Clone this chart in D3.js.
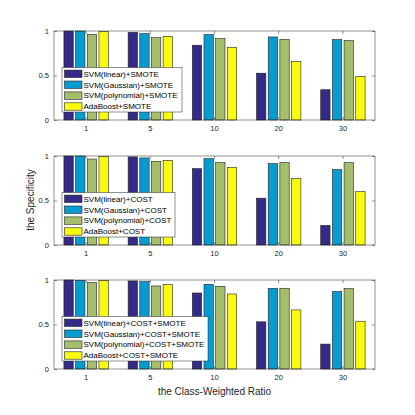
<!DOCTYPE html>
<html><head><meta charset="utf-8">
<script src="https://cdn.jsdelivr.net/npm/d3@7"></script>
<style>body{margin:0;background:#fff}svg{display:block}text{font-family:"Liberation Sans",Arial,sans-serif}</style>
</head><body><div id="c"></div>
<script>
const categories = ["1","5","10","20","30"];
const yTicks = [0, 0.5, 1];
const yTickLabels = ["0","0.5","1"];
const colors = ["#352a87","#079ccf","#a5be6b","#f9fb0e"];
const legend1 = ["SVM(linear)+SMOTE","SVM(Gaussian)+SMOTE","SVM(polynomial)+SMOTE","AdaBoost+SMOTE"];
const legend2 = ["SVM(linear)+COST","SVM(Gaussian)+COST","SVM(polynomial)+COST","AdaBoost+COST"];
const legend3 = ["SVM(linear)+COST+SMOTE","SVM(Gaussian)+COST+SMOTE","SVM(polynomial)+COST+SMOTE","AdaBoost+COST+SMOTE"];
// values per series, across categories
const smoteLinear = [1.0, 0.985, 0.84, 0.526, 0.34];
const smoteGauss  = [1.0, 0.97, 0.959, 0.933, 0.903];
const smotePoly   = [0.963, 0.925, 0.914, 0.907, 0.892];
const smoteAda    = [0.996, 0.94, 0.817, 0.66, 0.489];
const costLinear = [1.0, 0.99, 0.858, 0.526, 0.22];
const costGauss  = [1.0, 0.978, 0.97, 0.914, 0.847];
const costPoly   = [0.966, 0.94, 0.925, 0.925, 0.925];
const costAda    = [0.996, 0.95, 0.873, 0.746, 0.6];
const csLinear = [1.0, 0.989, 0.854, 0.53, 0.28];
const csGauss  = [0.996, 0.981, 0.951, 0.907, 0.869];
const csPoly   = [0.97, 0.933, 0.929, 0.907, 0.903];
const csAda    = [0.996, 0.948, 0.843, 0.664, 0.537];

const panels = [
  {series:[smoteLinear,smoteGauss,smotePoly,smoteAda], legend:legend1, top:31, bottom:120, lw:120},
  {series:[costLinear,costGauss,costPoly,costAda], legend:legend2, top:156, bottom:245, lw:113},
  {series:[csLinear,csGauss,csPoly,csAda], legend:legend3, top:280, bottom:369, lw:146}
];

const W=415,H=415, left=54, right=375;
const svg = d3.select("#c").append("svg").attr("width",W).attr("height",H);
const axisColor = "#262626";

const x = d3.scaleBand().domain(categories).range([left,right]).paddingInner(0).paddingOuter(0);
const groupW = x.bandwidth()*4/5.5;
const xs = d3.scaleBand().domain(d3.range(4)).range([-groupW/2, groupW/2]).paddingInner(0.2).paddingOuter(0.1);

panels.forEach(p=>{
  const y = d3.scaleLinear().domain([0,1]).range([p.bottom,p.top]);
  const g = svg.append("g");
  g.append("rect").attr("x",left).attr("y",p.top).attr("width",right-left).attr("height",p.bottom-p.top).attr("fill","#fff");
  p.series.forEach((vals,si)=>{
    g.selectAll(null).data(vals).enter().append("rect")
      .attr("x",(d,i)=>x(categories[i])+x.bandwidth()/2+xs(si))
      .attr("y",d=>y(d))
      .attr("width",xs.bandwidth())
      .attr("height",d=>y(0)-y(d))
      .attr("fill",colors[si]).attr("stroke","#222").attr("stroke-width",0.6);
  });
  // box
  g.append("rect").attr("x",left).attr("y",p.top).attr("width",right-left).attr("height",p.bottom-p.top)
    .attr("fill","none").attr("stroke",axisColor).attr("stroke-width",0.5);
  // axes
  const xa = d3.axisBottom(x).tickSize(-3).tickPadding(6);
  const gx = g.append("g").attr("transform",`translate(0,${p.bottom})`).call(xa);
  const xt = d3.axisTop(x).tickSize(-3).tickFormat("");
  const gxt = g.append("g").attr("transform",`translate(0,${p.top})`).call(xt);
  const ya = d3.axisLeft(y).tickValues(yTicks).tickFormat((d,i)=>yTickLabels[i]).tickSize(-3).tickPadding(5);
  const gy = g.append("g").attr("transform",`translate(${left},0)`).call(ya);
  const yr = d3.axisRight(y).tickValues(yTicks).tickFormat("").tickSize(-3);
  const gyr = g.append("g").attr("transform",`translate(${right},0)`).call(yr);
  [gx,gxt,gy,gyr].forEach(a=>{
    a.select(".domain").remove();
    a.selectAll("line").attr("stroke",axisColor).attr("stroke-width",0.5);
    a.selectAll("text").attr("fill",axisColor).style("font-size","7.5px").style("font-family","'Liberation Sans',Arial,sans-serif");
  });
  // legend
  const lx=62, ly=p.top+36.5, lh=44.5;
  const lg = g.append("g");
  lg.append("rect").attr("x",lx).attr("y",ly).attr("width",p.lw).attr("height",lh)
    .attr("fill","#fff").attr("stroke",axisColor).attr("stroke-width",0.5);
  p.legend.forEach((t,i)=>{
    const cy = ly+6.3+i*10.9;
    lg.append("rect").attr("x",lx+2.5).attr("y",cy-3.7).attr("width",17.5).attr("height",7.4)
      .attr("fill",colors[i]).attr("stroke","#222").attr("stroke-width",0.6);
    lg.append("text").attr("x",lx+21.5).attr("y",cy).attr("dy","0.35em").attr("fill","#000")
      .style("font-size","8px").text(t);
  });
});

svg.append("text").attr("x",(left+right)/2).attr("y",391).attr("dy","0.35em").attr("text-anchor","middle")
  .attr("fill",axisColor).style("font-size","10px").text("the Class-Weighted Ratio");
svg.append("text").attr("transform","translate(30,200) rotate(-90)").attr("dy","0.35em").attr("text-anchor","middle")
  .attr("fill",axisColor).style("font-size","10px").text("the Specificity");
</script></body></html>
